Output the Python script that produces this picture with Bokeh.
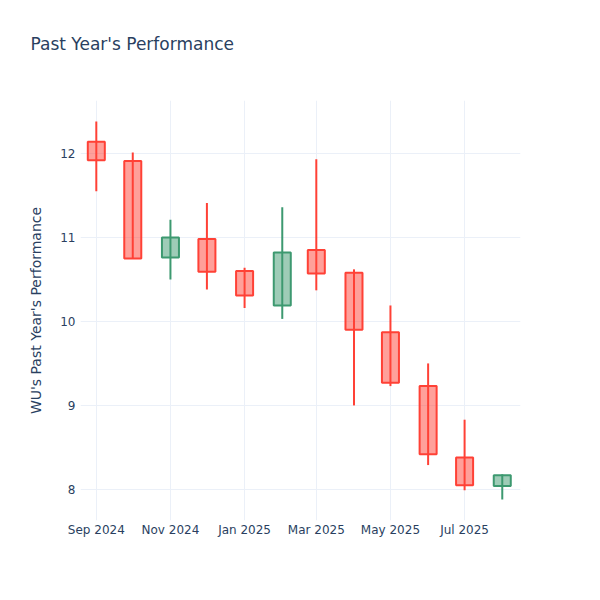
from datetime import datetime
from bokeh.plotting import figure
from bokeh.models import Range1d, FixedTicker, ColumnDataSource, Title
from bokeh.embed import file_html
from bokeh.resources import INLINE

dates = ["2024-09-01", "2024-10-01", "2024-11-01", "2024-12-01", "2025-01-01", "2025-02-01",
         "2025-03-01", "2025-04-01", "2025-05-01", "2025-06-01", "2025-07-01", "2025-08-01"]
opens = [12.14, 11.91, 10.76, 10.98, 10.60, 10.19, 10.85, 10.58, 9.87, 9.23, 8.38, 8.04]
highs = [12.38, 12.01, 11.21, 11.41, 10.64, 11.36, 11.93, 10.62, 10.19, 9.50, 8.83, 8.18]
lows = [11.55, 10.75, 10.50, 10.38, 10.16, 10.03, 10.37, 9.00, 9.23, 8.29, 7.99, 7.88]
closes = [11.92, 10.75, 11.00, 10.59, 10.31, 10.82, 10.57, 9.90, 9.27, 8.42, 8.05, 8.17]

tick_dates = ["2024-09-01", "2024-11-01", "2025-01-01", "2025-03-01", "2025-05-01", "2025-07-01"]
tick_labels = ["Sep 2024", "Nov 2024", "Jan 2025", "Mar 2025", "May 2025", "Jul 2025"]

INC = "#3D9970"
DEC = "#FF4136"
TXT = "#2a3f5f"
GRID = "#EBF0F8"
FONT = "DejaVu Sans"

def ms(d):
    return datetime.strptime(d, "%Y-%m-%d").timestamp() * 1000.0

x = [datetime.strptime(d, "%Y-%m-%d") for d in dates]
colors = [INC if c >= o else DEC for o, c in zip(opens, closes)]
src = ColumnDataSource(dict(
    x=x, high=highs, low=lows,
    top=[max(o, c) for o, c in zip(opens, closes)],
    bottom=[min(o, c) for o, c in zip(opens, closes)],
    color=colors,
))

p = figure(width=600, height=600, x_axis_type="datetime",
           output_backend="svg", toolbar_location=None,
           x_range=Range1d(ms("2024-08-19"), ms("2025-08-16")),
           y_range=Range1d(7.63, 12.63),
           min_border_left=80, min_border_right=80, min_border_top=100, min_border_bottom=80)
p.outline_line_color = None
p.background_fill_color = "white"

p.segment(x0="x", x1="x", y0="low", y1="high", line_color="color", line_width=2, source=src)
p.vbar(x="x", width=14 * 86400000, top="top", bottom="bottom", fill_color="color",
       fill_alpha=0.5, line_color="color", line_width=2, source=src)

tick_ms = [ms(d) for d in tick_dates]
p.xaxis.ticker = FixedTicker(ticks=tick_ms)
p.xaxis.major_label_overrides = {t: l for t, l in zip(tick_ms, tick_labels)}
p.yaxis.ticker = FixedTicker(ticks=[8, 9, 10, 11, 12])

for ax in (p.xaxis, p.yaxis):
    ax.axis_line_color = None
    ax.major_tick_line_color = None
    ax.minor_tick_line_color = None
    ax.major_label_text_color = TXT
    ax.major_label_text_font = FONT
    ax.major_label_text_font_size = "12px"
p.xaxis.major_label_standoff = -4
p.yaxis.major_label_standoff = -1
p.yaxis.axis_label = "WU's Past Year's Performance"
p.yaxis.axis_label_text_font = FONT
p.yaxis.axis_label_text_font_size = "14px"
p.yaxis.axis_label_text_font_style = "normal"
p.yaxis.axis_label_text_color = TXT
p.yaxis.axis_label_standoff = 13

p.xgrid.grid_line_color = GRID
p.ygrid.grid_line_color = GRID
p.xgrid.grid_line_width = 1
p.ygrid.grid_line_width = 1

p.title.text = "Past Year's Performance"
p.title.text_font = FONT
p.title.text_font_size = "17px"
p.title.text_font_style = "normal"
p.title.text_color = TXT
p.title.align = "left"
p.title.offset = -50
p.add_layout(Title(text=" ", text_font_size="27px"), "above")

open("out.html", "w").write(file_html(p, INLINE))
